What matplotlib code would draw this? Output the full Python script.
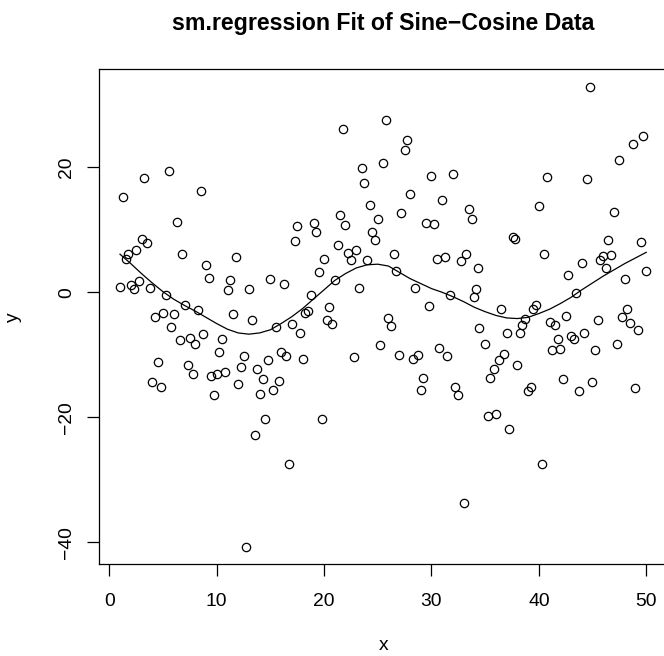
import matplotlib
matplotlib.use("Agg")
import matplotlib.pyplot as plt

plt.rcParams["font.family"] = ["Liberation Sans", "DejaVu Sans"]

# scattered observations
x = [3.26, 5.53, 1.28, 8.51, 6.27,
     21.76, 25.76, 27.75, 27.5, 25.48, 23.5, 23.74, 29.98, 32.0, 28.0, 31.0, 24.25,
     27.2, 21.5, 21.97, 25.0, 29.5, 30.26, 33.46, 33.77, 17.5, 19.03, 19.25, 24.5,
     44.73, 49.72, 48.73, 47.46, 40.75, 44.48, 39.98, 46.96,
     3.02, 3.54, 2.51, 1.77, 1.53, 6.77, 11.77, 9.03, 9.25, 11.27, 11.02, 13.0, 15.0,
     16.24, 1.03, 2.02, 2.27, 2.77, 3.79, 5.25, 7.02, 8.26, 4.26, 5.03, 6.02, 5.77,
     11.52, 13.26, 15.52, 8.75, 6.55, 7.51, 8.0, 10.52, 10.24, 12.51, 14.75, 16.01,
     16.5, 4.5, 7.33, 7.76, 9.5, 10.03, 10.77, 12.26, 13.75, 14.28, 15.77, 12.01,
     4.0, 4.78, 9.75, 14.0, 15.27,
     17.29, 24.74, 21.27, 22.25, 23.0, 22.5, 19.99, 19.5, 24.0, 26.5, 26.72, 30.48,
     31.26, 32.72, 33.24, 34.36, 21.01, 23.25, 28.46, 18.78, 31.72, 34.14, 33.96,
     29.74, 20.48, 18.47, 18.25, 20.24, 20.76, 16.98, 17.76, 26.0, 26.23, 34.45,
     25.23, 18.0, 22.75, 26.97, 28.25, 28.74, 30.73, 31.47, 29.24, 28.99, 32.22, 32.5,
     37.62, 37.77, 46.46, 49.48, 40.47, 43.98, 45.69, 45.97, 46.74, 46.25, 42.74,
     47.99, 49.97, 43.48, 36.5, 39.45, 39.76, 38.73, 38.45, 38.24, 37.0, 34.98, 42.5,
     41.0, 41.5, 41.75, 41.22, 41.99, 42.96, 43.24, 44.23, 45.47, 45.22, 47.24, 47.74,
     48.23, 48.48, 49.23, 36.75, 36.26, 35.79, 35.48, 37.96, 42.24, 44.97, 43.76,
     48.98, 39.26, 38.98,
     14.5, 13.54, 16.73, 12.76, 19.78, 33.0, 35.23, 35.98, 37.22, 40.26]
y = [18.3, 19.4, 15.2, 16.2, 11.2,
     26.2, 27.6, 24.4, 22.7, 20.7, 19.9, 17.5, 18.6, 18.9, 15.7, 14.7, 14.0,
     12.7, 12.3, 10.8, 11.7, 11.1, 10.9, 13.4, 11.8, 10.6, 11.1, 9.6, 9.7,
     32.8, 25.0, 23.7, 21.1, 18.5, 18.1, 13.8, 12.8,
     8.5, 7.9, 6.7, 6.1, 5.4, 6.2, 5.6, 4.3, 2.3, 2.0, 0.3, 0.6, 2.2,
     1.3, 0.8, 1.2, 0.6, 1.8, 0.7, -0.4, -2.0, -2.9, -4.0, -3.3, -3.4, -5.5,
     -3.5, -4.4, -5.6, -6.7, -7.7, -7.3, -8.2, -7.4, -9.5, -10.2, -10.8, -9.5,
     -10.2, -11.2, -11.7, -13.1, -13.4, -13.0, -12.7, -12.0, -12.2, -13.9, -14.2, -14.6,
     -14.3, -15.2, -16.5, -16.2, -15.7,
     8.2, 8.3, 7.6, 6.3, 6.8, 5.1, 5.3, 3.3, 5.2, 6.2, 3.4, 5.4,
     5.6, 5.0, 6.2, 3.9, 2.0, 0.7, 0.7, -0.5, -0.5, 0.5, -0.8,
     -2.2, -2.3, -3.0, -3.3, -4.5, -5.0, -5.0, -6.5, -4.1, -5.4, -5.7,
     -8.5, -10.7, -10.4, -10.0, -10.6, -10.1, -8.9, -10.2, -13.7, -15.6, -15.2, -16.4,
     8.9, 8.6, 8.3, 8.1, 6.2, 4.7, 5.1, 5.8, 5.9, 3.9, 2.7,
     2.2, 3.4, -0.1, -2.7, -2.6, -2.1, -4.2, -5.3, -6.5, -6.5, -8.3, -3.8,
     -4.8, -5.2, -7.4, -9.3, -9.1, -7.0, -7.5, -6.5, -4.4, -9.3, -8.2, -4.0,
     -2.7, -4.9, -6.1, -9.9, -10.8, -12.2, -13.7, -11.6, -13.9, -14.3, -15.8,
     -15.3, -15.2, -15.8,
     -20.3, -22.8, -27.4, -40.7, -20.3, -33.7, -19.8, -19.4, -21.8, -27.4]

# smoothed regression curve
fit_x = [1, 2, 3, 4, 5, 6, 7, 8, 9, 10, 11, 12, 13, 14, 15, 16, 17, 18, 19, 20,
         21, 22, 23, 24, 25, 26, 27, 28, 29, 30, 31, 32, 33, 34, 35, 36, 37, 38, 39, 40,
         41, 42, 43, 44, 45, 46, 47, 48, 49, 50]
fit_y = [6.1, 4.6, 3.0, 1.5, 0.1, -1.1, -2.1, -3.0, -4.0, -5.0, -5.9, -6.5, -6.7, -6.5,
         -6.0, -5.0, -3.9, -2.6, -1.1, 0.4, 1.9, 3.0, 3.9, 4.4, 4.5, 4.2, 3.2, 2.2, 1.4,
         0.6, 0.0, -0.7, -1.5, -2.4, -3.1, -3.7, -4.1, -4.2, -4.0, -3.4, -2.7, -1.8, -0.8,
         0.4, 1.5, 2.6, 3.6, 4.6, 5.5, 6.4]

fig = plt.figure(figsize=(6.64, 6.56), dpi=100)
ax = fig.add_axes([0.1495, 0.1398, 0.855, 0.755])

ax.plot(x, y, "o", ms=6.0, mfc="none", mec="black", mew=0.9)
ax.plot(fit_x, fit_y, "-", color="black", lw=0.9)

ax.set_xlim(-0.93, 51.93)
ax.set_ylim(-43.52, 35.73)
ax.set_xticks([0, 10, 20, 30, 40, 50])
ax.set_yticks([-40, -20, 0, 20])
for s in ax.spines.values():
    s.set_linewidth(0.9)
ax.tick_params(length=8.4, width=0.9, labelsize=13.9)
ax.tick_params(axis="x", pad=12)
ax.tick_params(axis="y", pad=9)
for lab in ax.get_yticklabels():
    lab.set_rotation(90)
    lab.set_va("center")

ax.set_title("sm.regression Fit of Sine\u2212Cosine Data", fontsize=16.7,
             fontweight="bold", pad=28)
ax.set_xlabel("x", fontsize=13.9)
ax.set_ylabel("y", fontsize=13.9)
ax.xaxis.set_label_coords(0.577, 0.016, transform=fig.transFigure)
ax.yaxis.set_label_coords(0.021, 0.517, transform=fig.transFigure)
ax.xaxis.label.set_va("center")
ax.yaxis.label.set_va("center")

fig.savefig("out.png", dpi=100)
